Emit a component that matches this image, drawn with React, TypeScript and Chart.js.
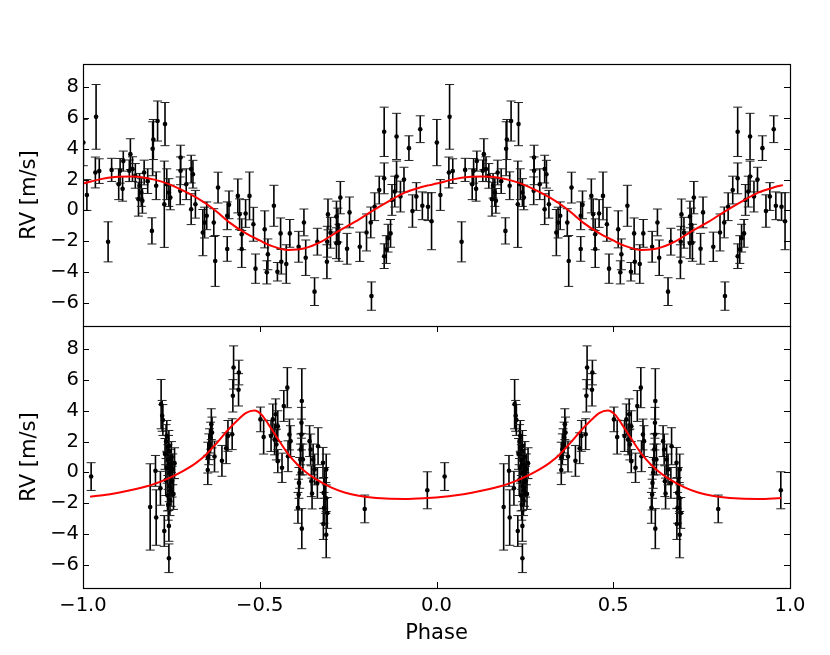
import { useEffect, useRef } from "react";
import { Chart, registerables } from "chart.js";

Chart.register(...registerables);

// RV residuals, one phase cycle each; the plot shows each cycle twice (phase and phase + 1)
const topPhase = [
  -0.999, -0.989, -0.965, -0.963, -0.954, -0.929, -0.919, -0.899, -0.895, -0.888,
  -0.886, -0.869, -0.866, -0.86, -0.852, -0.843, -0.84, -0.835, -0.832, -0.827,
  -0.817, -0.805, -0.803, -0.801, -0.793, -0.789, -0.77, -0.768, -0.763, -0.757,
  -0.753, -0.725, -0.724, -0.724, -0.708, -0.694, -0.694, -0.689, -0.682, -0.661,
  -0.656, -0.65, -0.63, -0.626, -0.618, -0.592, -0.592, -0.587, -0.562, -0.557,
  -0.551, -0.551, -0.54, -0.529, -0.518, -0.512, -0.486, -0.48, -0.477, -0.46,
  -0.45, -0.441, -0.439, -0.425, -0.415, -0.39, -0.375, -0.37, -0.345, -0.337,
  -0.31, -0.309, -0.307, -0.3, -0.283, -0.283, -0.279, -0.276, -0.272, -0.253,
  -0.246, -0.217, -0.198, -0.186, -0.184, -0.175, -0.162, -0.148, -0.148, -0.148,
  -0.142, -0.137, -0.13, -0.126, -0.118, -0.113, -0.113, -0.102, -0.092, -0.078,
  -0.068, -0.057, -0.046, -0.04, -0.024, -0.014,
];
const topRv = [
  4.4, 1.0, 2.46, 6.07, 2.55, -2.04, 2.63, 1.7, 2.57, 1.4,
  3.2, 2.57, 3.65, 2.68, 2.24, 0.73, 1.6, 1.16, 0.62, 2.46,
  1.9, -1.33, 4.0, 4.6, 1.6, 5.8, 0.4, 5.6, 1.7, 1.16,
  0.84, 1.27, 3.43, 2.57, 1.7, 2.68, 0.08, 2.35, 0.4, -1.44,
  -0.79, -0.35, -0.79, -3.28, 1.48, -0.35, -2.5, 0.36, 0.94, -0.25,
  -1.55, -2.5, -0.2, 0.94, -0.9, -3.78, -1.23, -4.02, -2.85, 0.3,
  -3.98, -1.49, -3.33, -3.48, -1.49, -2.36, -0.78, -3.07, -5.27, -2.03,
  -3.33, -2.03, -0.26, -1.45, -0.4, -2.13, -0.95, -2.1, 0.83, -2.49,
  -0.13, -2.36, -1.43, -0.78, -5.56, 0.24, 1.32, 5.1, 2.08, -2.97,
  -2.54, -1.8, -1.49, 0.68, 1.22, 4.8, 2.2, 0.9, 2.0, 4.04,
  -0.04, 0.9, 5.27, 0.3, 0.24, -0.7,
];
const topErr = [
  1.5, 1.0, 1.0, 2.1, 0.8, 1.3, 0.75, 1.0, 0.8, 0.8,
  0.65, 0.7, 1.0, 0.8, 0.8, 1.1, 0.8, 0.9, 0.8, 0.8,
  0.8, 0.85, 1.75, 1.3, 0.9, 1.3, 2.8, 1.4, 1.0, 0.9,
  0.8, 0.9, 0.8, 0.9, 1.0, 0.9, 1.0, 0.9, 0.9, 1.5,
  1.0, 0.9, 0.9, 1.65, 1.0, 0.9, 0.8, 0.9, 1.1, 1.0,
  1.0, 1.2, 0.9, 1.55, 1.1, 0.95, 1.2, 0.75, 1.0, 1.33,
  0.6, 1.0, 0.8, 1.25, 0.9, 1.0, 0.87, 1.15, 0.9, 0.87,
  1.1, 1.0, 1.0, 1.0, 1.0, 1.0, 1.1, 1.2, 1.05, 1.0,
  1.0, 0.95, 1.2, 1.0, 0.92, 0.9, 0.9, 1.6, 1.0, 0.8,
  0.9, 0.9, 0.9, 1.0, 1.0, 1.5, 1.0, 1.0, 0.8, 0.8,
  1.05, 0.9, 0.87, 0.9, 0.9, 1.85,
];

const botPhase = [
  -0.977, -0.81, -0.795, -0.793, -0.781, -0.779, -0.776, -0.774, -0.77, -0.768,
  -0.766, -0.765, -0.763, -0.762, -0.761, -0.76, -0.759, -0.758, -0.757, -0.757,
  -0.757, -0.756, -0.755, -0.754, -0.753, -0.752, -0.751, -0.75, -0.748, -0.746,
  -0.744, -0.741, -0.647, -0.647, -0.644, -0.642, -0.639, -0.637, -0.635, -0.628,
  -0.607, -0.595, -0.59, -0.578, -0.576, -0.574, -0.56, -0.559, -0.498, -0.489,
  -0.468, -0.463, -0.458, -0.455, -0.453, -0.449, -0.449, -0.437, -0.432, -0.422,
  -0.42, -0.416, -0.413, -0.392, -0.39, -0.389, -0.387, -0.385, -0.384, -0.382,
  -0.382, -0.381, -0.381, -0.378, -0.359, -0.356, -0.354, -0.352, -0.349, -0.345,
  -0.337, -0.335, -0.321, -0.32, -0.319, -0.318, -0.316, -0.313, -0.312, -0.312,
  -0.309, -0.203, -0.026,
];
const botRv = [
  -0.27, -2.24, 0.1, -2.93, -1.03, 4.43, 3.67, 3.4, -3.8, 1.2,
  -0.5, 2.0, 2.37, 0.3, -1.5, 0.8, -2.1, 1.4, 1.72, -3.47,
  -5.57, -0.9, 0.0, -1.8, 0.5, -0.3, -1.2, 1.0, -0.6, 0.2,
  -1.4, 0.6, 0.16, 0.96, 1.5, 1.83, 2.26, 3.13, 2.59, 1.03,
  0.75, 1.57, 2.37, 2.48, 4.97, 6.81, 5.36, 6.48, 3.44, 2.29,
  2.36, 3.44, 2.14, 3.77, 1.81, 0.73, 3.0, 0.3, 4.31, 5.5,
  1.05, 2.46, 2.03, -2.3, -1.44, -0.68, -0.03, 0.84, 1.49, 2.46,
  3.22, 4.63, -3.65, 0.84, 2.03, 1.49, -0.57, -1.37, 0.84, 0.19,
  -0.68, 1.7, 0.62, -3.35, -1.33, -2.3, -0.68, -1.66, -4.04, 0.19,
  -2.63, -2.37, -1.16,
];
const botErr = [
  0.9, 2.8, 1.0, 1.8, 1.1, 1.6, 1.0, 1.0, 1.0, 1.0,
  1.0, 1.1, 1.0, 1.0, 1.0, 1.0, 1.0, 1.0, 1.0, 1.0,
  0.93, 1.0, 1.0, 1.0, 1.0, 1.0, 1.0, 1.0, 1.0, 1.0,
  1.0, 1.0, 0.95, 1.0, 1.0, 1.0, 1.0, 1.0, 1.0, 1.0,
  1.0, 1.0, 1.0, 1.0, 1.05, 1.4, 1.05, 0.8, 0.8, 1.1,
  1.0, 1.0, 1.0, 1.0, 1.0, 0.75, 1.0, 0.95, 1.0, 1.3,
  1.0, 1.0, 1.0, 1.0, 1.0, 1.0, 1.0, 1.0, 1.0, 1.0,
  1.0, 2.1, 1.3, 1.0, 1.0, 1.0, 1.0, 1.0, 1.0, 1.0,
  1.0, 1.2, 1.0, 1.0, 1.0, 1.0, 1.0, 1.0, 1.5, 1.0,
  1.0, 0.9, 1.2,
];

// Keplerian model curves, read over one cycle
const topModelPhase = [
  -1.0, -0.95, -0.91, -0.87, -0.82, -0.775, -0.725, -0.68, -0.63, -0.585, -0.54, -0.5,
  -0.467, -0.42, -0.373, -0.326, -0.28, -0.23, -0.185, -0.137, -0.09, -0.045, -0.02,
];
const topModelRv = [
  1.74, 2.03, 2.17, 2.2, 2.11, 1.85, 1.38, 0.84, 0.08, -0.79, -1.48, -1.95,
  -2.3, -2.57, -2.46, -2.03, -1.38, -0.73, -0.08, 0.57, 1.15, 1.5, 1.64,
];
const botModelPhase = [
  -0.98, -0.95, -0.9, -0.85, -0.8, -0.76, -0.72, -0.68, -0.65, -0.62, -0.59, -0.56, -0.54,
  -0.515, -0.495, -0.475, -0.455, -0.435, -0.415, -0.395, -0.37, -0.34, -0.3, -0.26, -0.22,
  -0.17, -0.09, -0.025,
];
const botModelRv = [
  -1.58, -1.5, -1.32, -1.08, -0.76, -0.4, 0.05, 0.62, 1.2, 1.95, 2.75, 3.45, 3.85,
  4.02, 3.75, 3.1, 2.4, 1.7, 1.05, 0.55, 0.03, -0.45, -0.95, -1.3, -1.52,
  -1.66, -1.73, -1.66,
];

const phaseTicks = [-1.0, -0.5, 0.0, 0.5, 1.0];
const rvTicks = [-6, -4, -2, 0, 2, 4, 6, 8];

const FONT = "'DejaVu Sans', 'Bitstream Vera Sans', sans-serif";
const minus = (s: string) => s.replace("-", "\u2212");

type Pt = { x: number; y: number; e?: number };

function fold(ph: number[], v: number[], err?: number[]): Pt[] {
  const a: Pt[] = [];
  const b: Pt[] = [];
  ph.forEach((p, i) => {
    a.push({ x: p, y: v[i], e: err ? err[i] : undefined });
    b.push({ x: p + 1, y: v[i], e: err ? err[i] : undefined });
  });
  return a.concat(b);
}

const errorBars = {
  id: "errorBars",
  beforeDatasetsDraw(chart: any) {
    const { ctx, chartArea } = chart;
    const xs = chart.scales.x;
    const ys = chart.scales.y;
    const pts = chart.data.datasets[1].data as Pt[];
    ctx.save();
    ctx.beginPath();
    ctx.rect(chartArea.left, chartArea.top, chartArea.right - chartArea.left, chartArea.bottom - chartArea.top);
    ctx.clip();
    pts.forEach((p) => {
      const px = xs.getPixelForValue(p.x);
      const t = ys.getPixelForValue(p.y + (p.e || 0));
      const b = ys.getPixelForValue(p.y - (p.e || 0));
      ctx.strokeStyle = "#000";
      ctx.lineWidth = 1.6;
      ctx.beginPath();
      ctx.moveTo(px, t);
      ctx.lineTo(px, b);
      ctx.stroke();
      ctx.strokeStyle = "#222";
      ctx.lineWidth = 1;
      ctx.beginPath();
      ctx.moveTo(px - 4.5, t);
      ctx.lineTo(px + 4.5, t);
      ctx.moveTo(px - 4.5, b);
      ctx.lineTo(px + 4.5, b);
      ctx.stroke();
    });
    ctx.restore();
  },
};

function frame(xTicks: boolean) {
  return {
    id: "frame",
    afterDraw(chart: any) {
      const { ctx, chartArea } = chart;
      const { left, right, top, bottom } = chartArea;
      const xs = chart.scales.x;
      const ys = chart.scales.y;
      ctx.save();
      ctx.strokeStyle = "#000";
      ctx.lineWidth = 1;
      ctx.beginPath();
      rvTicks.forEach((v) => {
        const py = Math.round(ys.getPixelForValue(v)) + 0.5;
        ctx.moveTo(left, py);
        ctx.lineTo(left + 6, py);
        ctx.moveTo(right, py);
        ctx.lineTo(right - 6, py);
      });
      if (xTicks) {
        phaseTicks.forEach((v) => {
          const px = Math.round(xs.getPixelForValue(v)) + 0.5;
          ctx.moveTo(px, top);
          ctx.lineTo(px, top + 6);
          ctx.moveTo(px, bottom);
          ctx.lineTo(px, bottom - 6);
        });
      }
      ctx.stroke();
      ctx.lineWidth = 1.2;
      ctx.strokeRect(Math.round(left) + 0.5, Math.round(top) + 0.5, Math.round(right - left), Math.round(bottom - top));
      ctx.restore();
    },
  };
}

function Panel({
  phase,
  rv,
  err,
  modelPhase,
  modelRv,
  modelEnd,
  showX,
  height,
  padTop,
  padBottom,
}: {
  phase: number[];
  rv: number[];
  err: number[];
  modelPhase: number[];
  modelRv: number[];
  modelEnd: number;
  showX: boolean;
  height: number;
  padTop: number;
  padBottom: number;
}) {
  const canvasRef = useRef<HTMLCanvasElement>(null);

  useEffect(() => {
    if (!canvasRef.current) return;
    const points = fold(phase, rv, err);
    const model = fold(modelPhase, modelRv).filter((p) => p.x <= modelEnd + 1e-9);

    const chart = new Chart(canvasRef.current, {
      type: "scatter",
      data: {
        datasets: [
          {
            type: "line",
            data: model,
            borderColor: "#ff0000",
            borderWidth: 2,
            pointRadius: 0,
            fill: false,
            cubicInterpolationMode: "monotone",
          } as any,
          {
            data: points,
            backgroundColor: "#000",
            borderColor: "#000",
            borderWidth: 0,
            pointRadius: 2.3,
          },
        ],
      },
      options: {
        responsive: false,
        animation: false,
        events: [],
        layout: { autoPadding: false, padding: { left: 0, right: 40, top: padTop, bottom: padBottom } },
        plugins: { legend: { display: false }, tooltip: { enabled: false } },
        scales: {
          x: {
            type: "linear",
            display: true,
            min: -1,
            max: 1,
            afterBuildTicks: (s: any) => {
              s.ticks = phaseTicks.map((value) => ({ value }));
            },
            afterFit: (s: any) => {
              s.height = showX ? 67 : 0;
              s.paddingLeft = 0;
              s.paddingRight = 0;
            },
            grid: { display: false, drawTicks: false },
            border: { display: false },
            ticks: {
              display: showX,
              color: "#000",
              padding: 6,
              maxRotation: 0,
              font: { family: FONT, size: 19.5 },
              callback: (v: any) => minus(Number(v).toFixed(1)),
            },
            title: {
              display: showX,
              text: "Phase",
              color: "#000",
              font: { family: FONT, size: 21 },
              padding: { top: 0, bottom: 9 },
            },
          },
          y: {
            min: -7.5,
            max: 9.5,
            afterBuildTicks: (s: any) => {
              s.ticks = rvTicks.map((value) => ({ value }));
            },
            afterFit: (s: any) => {
              s.width = 83;
              s.paddingTop = 0;
              s.paddingBottom = 0;
            },
            grid: { display: false, drawTicks: false },
            border: { display: false },
            ticks: {
              color: "#000",
              padding: 4,
              font: { family: FONT, size: 19.5 },
              callback: (v: any) => minus(String(v)),
            },
            title: {
              display: true,
              text: "RV [m/s]",
              color: "#000",
              font: { family: FONT, size: 21 },
              padding: { top: 17, bottom: 0 },
            },
          },
        },
      },
      plugins: [errorBars, frame(showX)],
    });

    return () => {
      chart.destroy();
    };
  }, []);

  return <canvas ref={canvasRef} width={830} height={height} style={{ display: "block", width: 830, height }}></canvas>;
}

export default function App() {
  useEffect(() => {
    document.body.style.margin = "0";
  }, []);

  return (
    <div style={{ position: "relative", width: 830, height: 655, background: "#fff" }}>
      <div style={{ position: "absolute", left: 0, top: 0 }}>
        <Panel
          phase={topPhase}
          rv={topRv}
          err={topErr}
          modelPhase={topModelPhase}
          modelRv={topModelRv}
          modelEnd={0.98}
          showX={false}
          height={327}
          padTop={64}
          padBottom={1}
        />
      </div>
      <div style={{ position: "absolute", left: 0, top: 326 }}>
        <Panel
          phase={botPhase}
          rv={botRv}
          err={botErr}
          modelPhase={botModelPhase}
          modelRv={botModelRv}
          modelEnd={0.975}
          showX={true}
          height={329}
          padTop={0}
          padBottom={0}
        />
      </div>
    </div>
  );
}
